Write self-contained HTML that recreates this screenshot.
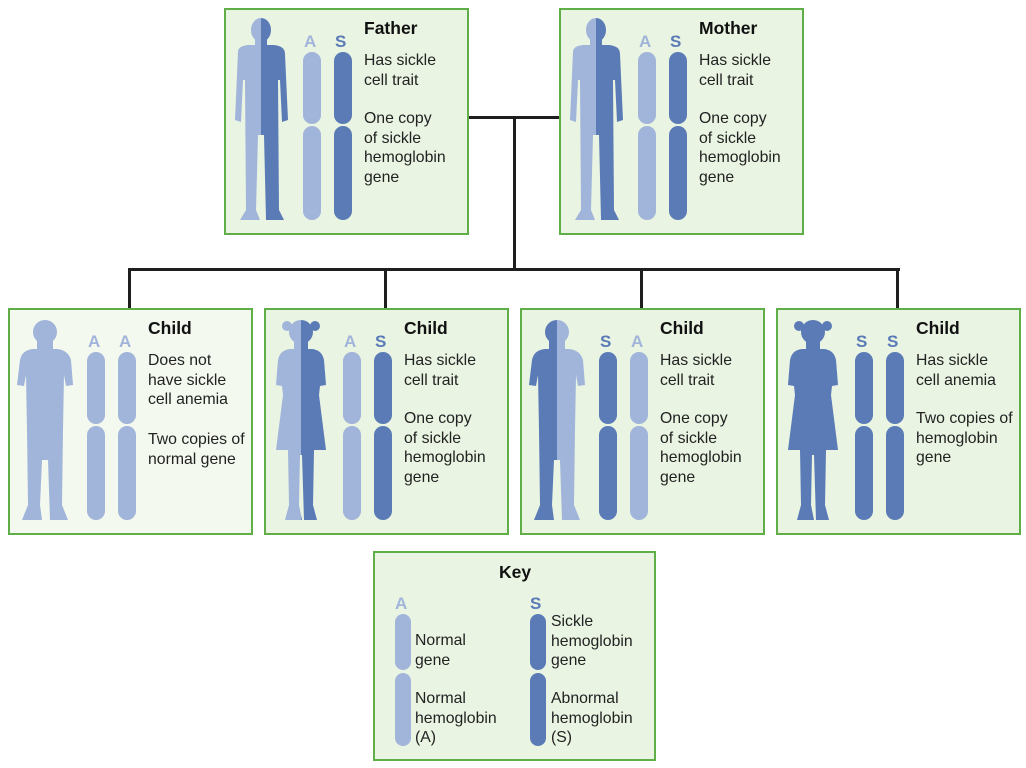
<!DOCTYPE html>
<html><head><meta charset="utf-8"><style>
body{margin:0;width:1026px;height:768px;background:#fff;position:relative;overflow:hidden;font-family:"Liberation Sans",sans-serif;}
.box{position:absolute;background:#e9f4e3;border:2px solid #5fae48;box-sizing:border-box;}
.t{position:absolute;font-size:15.8px;line-height:19.5px;color:#222;}
.h{position:absolute;font-size:17.5px;font-weight:bold;color:#111;}
.ln{position:absolute;background:#1e1e1e;}
svg{position:absolute;left:0;top:0}
</style></head><body>
<div class="ln" style="left:468px;top:116px;width:92px;height:3px"></div>
<div class="ln" style="left:513px;top:116px;width:3px;height:155px"></div>
<div class="ln" style="left:128px;top:268px;width:772px;height:3px"></div>
<div class="ln" style="left:128px;top:268px;width:3px;height:41px"></div>
<div class="ln" style="left:384px;top:268px;width:3px;height:41px"></div>
<div class="ln" style="left:640px;top:268px;width:3px;height:41px"></div>
<div class="ln" style="left:896px;top:268px;width:3px;height:41px"></div>
<div id="root"></div>
<div class="box" style="left:373px;top:551px;width:283px;height:210px">
<div class="h" style="left:124px;top:9px">Key</div>
<svg width="283" height="210">
<text x="20" y="56" font-family="Liberation Sans" font-weight="bold" font-size="17" fill="#a1b4da">A</text>
<text x="155" y="56" font-family="Liberation Sans" font-weight="bold" font-size="17" fill="#5b7bb6">S</text>
<rect x="20" y="61" width="16" height="56" rx="8" fill="#a1b4da"/><rect x="20" y="120" width="16" height="73" rx="8" fill="#a1b4da"/>
<rect x="155" y="61" width="16" height="56" rx="8" fill="#5b7bb6"/><rect x="155" y="120" width="16" height="73" rx="8" fill="#5b7bb6"/>
</svg>
<div class="t" style="left:40px;top:78px">Normal<br>gene</div>
<div class="t" style="left:40px;top:136px">Normal<br>hemoglobin<br>(A)</div>
<div class="t" style="left:176px;top:59px">Sickle<br>hemoglobin<br>gene</div>
<div class="t" style="left:176px;top:136px">Abnormal<br>hemoglobin<br>(S)</div>
</div>
<script>
var L="#a1b4da",D="#5b7bb6";
var boxes=[
{x:224,y:8,w:245,h:227,t:"Father",a:"A",b:"S",p:"ad",lc:L,rc:D,txt:"Has sickle<br>cell trait",t2:"One copy<br>of sickle<br>hemoglobin<br>gene"},
{x:559,y:8,w:245,h:227,t:"Mother",a:"A",b:"S",p:"ad",lc:L,rc:D,txt:"Has sickle<br>cell trait",t2:"One copy<br>of sickle<br>hemoglobin<br>gene"},
{x:8,y:308,w:245,h:227,t:"Child",a:"A",b:"A",p:"boy",lc:L,rc:L,txt:"Does not<br>have sickle<br>cell anemia",t2:"Two copies of<br>normal gene",bg:"#f3f9ef",t2y:120},
{x:264,y:308,w:245,h:227,t:"Child",a:"A",b:"S",p:"girl",lc:L,rc:D,txt:"Has sickle<br>cell trait",t2:"One copy<br>of sickle<br>hemoglobin<br>gene"},
{x:520,y:308,w:245,h:227,t:"Child",a:"S",b:"A",p:"boy",lc:D,rc:L,txt:"Has sickle<br>cell trait",t2:"One copy<br>of sickle<br>hemoglobin<br>gene"},
{x:776,y:308,w:245,h:227,t:"Child",a:"S",b:"S",p:"girl",lc:D,rc:D,txt:"Has sickle<br>cell anemia",t2:"Two copies of<br>hemoglobin<br>gene"}];
function person(k){
if(k=="ad")return '<ellipse cx="37" cy="20" rx="10" ry="12"/><rect x="31" y="28" width="12" height="9"/><path d="M14 42 Q14 36 24 35 L50 35 Q61 36 61 44 L64 110 L58 112 L56 70 L54 70 L55 200 L60 210 L42 210 L40 125 L34 125 L32 200 L36 210 L16 210 L22 200 L21 70 L19 70 L17 112 L11 110 Z"/>';
if(k=="boy")return '<circle cx="37" cy="22" r="12"/><rect x="29" y="30" width="16" height="10"/><path d="M12 50 Q14 40 25 39 L49 39 Q60 40 63 50 L65 75 L58 76 L56 65 L55 120 L54 195 L60 210 L42 210 L40 150 L34 150 L32 195 L34 210 L14 210 L20 195 L19 120 L18 65 L16 76 L9 75 Z"/>';
return '<circle cx="37" cy="22" r="12"/><circle cx="23" cy="16" r="5"/><circle cx="51" cy="16" r="5"/><rect x="30" y="30" width="14" height="10"/><path d="M14 50 Q16 40 26 39 L48 39 Q58 40 60 50 L62 75 L56 76 L55 85 L62 140 L50 140 L49 195 L53 210 L40 210 L38 145 L36 145 L35 195 L38 210 L21 210 L25 195 L24 140 L12 140 L19 85 L18 76 L12 75 Z"/>';
}
var h="";
boxes.forEach(function(b,i){
var ll=b.a=="A"?L:D, rr=b.b=="A"?L:D;
h+='<div class="box" style="left:'+b.x+'px;top:'+b.y+'px;width:'+b.w+'px;height:'+b.h+'px;'+(b.bg?'background:'+b.bg:'')+'">';
h+='<svg width="'+b.w+'" height="'+b.h+'"><defs><clipPath id="l'+i+'"><rect x="0" y="0" width="37" height="230"/></clipPath><clipPath id="r'+i+'"><rect x="37" y="0" width="50" height="230"/></clipPath></defs>';
h+='<g transform="translate(-2,0)"><g fill="'+b.lc+'" clip-path="url(#l'+i+')">'+person(b.p)+'</g><g fill="'+b.rc+'" clip-path="url(#r'+i+')">'+person(b.p)+'</g></g>';
h+='<text x="78" y="37" font-family="Liberation Sans" font-weight="bold" font-size="17" fill="'+ll+'">'+b.a+'</text>';
h+='<text x="109" y="37" font-family="Liberation Sans" font-weight="bold" font-size="17" fill="'+rr+'">'+b.b+'</text>';
h+='<rect x="77" y="42" width="18" height="72" rx="9" fill="'+ll+'"/><rect x="77" y="116" width="18" height="94" rx="9" fill="'+ll+'"/>';
h+='<rect x="108" y="42" width="18" height="72" rx="9" fill="'+rr+'"/><rect x="108" y="116" width="18" height="94" rx="9" fill="'+rr+'"/>';
h+='</svg><div class="h" style="left:138px;top:8px">'+b.t+'</div>';
h+='<div class="t" style="left:138px;top:41px">'+b.txt+'</div>';
h+='<div class="t" style="left:138px;top:'+(b.t2y||99)+'px">'+b.t2+'</div></div>';
});
document.getElementById("root").innerHTML=h;
</script>
</body></html>
